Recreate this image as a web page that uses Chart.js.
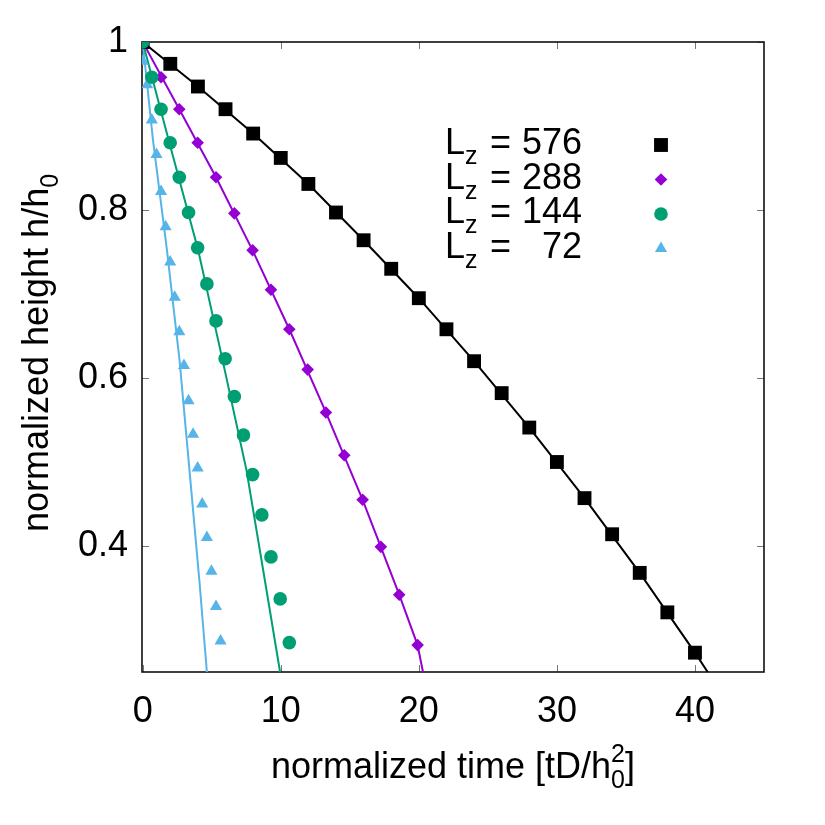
<!DOCTYPE html>
<html>
<head>
<meta charset="utf-8">
<script src="https://cdn.jsdelivr.net/npm/chart.js@4.4.1/dist/chart.umd.min.js"></script>
<style>
  html, body { margin: 0; padding: 0; background: #fff; }
  canvas { display: block; }
</style>
</head>
<body>
<canvas id="chart" width="825" height="825"></canvas>
<script>
// simulation data: normalized time vs normalized height
const tLz576 = [0, 2, 4, 6, 8, 10, 12, 14, 16, 18, 20, 22, 24, 26, 28, 30, 32, 34, 36, 38, 40];
const hLz576 = [1.0, 0.974, 0.947, 0.920, 0.891, 0.862, 0.831, 0.797, 0.764, 0.730, 0.695,
                0.658, 0.620, 0.582, 0.541, 0.500, 0.457, 0.414, 0.368, 0.321, 0.273];

const tLz288 = [0, 1.33, 2.65, 3.98, 5.31, 6.64, 7.96, 9.29, 10.62, 11.95, 13.27, 14.6, 15.93, 17.25, 18.58, 19.91];
const hLz288 = [1.0, 0.958, 0.920, 0.880, 0.839, 0.796, 0.752, 0.705, 0.658, 0.610, 0.559, 0.508, 0.455, 0.399, 0.342, 0.282];

const tLz144 = [0, 0.66, 1.33, 1.99, 2.65, 3.32, 3.98, 4.65, 5.31, 5.97, 6.64, 7.3, 7.96, 8.63, 9.29, 9.96, 10.62];
const hLz144 = [1.0, 0.958, 0.920, 0.880, 0.839, 0.797, 0.755, 0.712, 0.668, 0.623, 0.578, 0.532, 0.485, 0.437, 0.387, 0.337, 0.285];

const tLz72 = [0, 0.33, 0.66, 1.0, 1.33, 1.66, 1.99, 2.32, 2.65, 2.99, 3.32, 3.65, 3.98, 4.31, 4.65, 4.98, 5.31, 5.64];
const hLz72 = [0.977, 0.949, 0.907, 0.866, 0.822, 0.780, 0.738, 0.696, 0.655, 0.615, 0.573, 0.533, 0.493, 0.450, 0.410, 0.370, 0.328, 0.287];

// model curves
const tFit576 = [0, 4, 8, 12, 16, 20, 24, 28, 32, 36, 40, 40.92];
const hFit576 = [1.0, 0.947, 0.891, 0.831, 0.764, 0.695, 0.620, 0.541, 0.457, 0.368, 0.273, 0.25];
const tFit288 = [0, 2.65, 5.31, 7.96, 10.62, 13.27, 15.93, 18.58, 19.91, 20.3];
const hFit288 = [1.0, 0.920, 0.839, 0.752, 0.658, 0.559, 0.455, 0.342, 0.282, 0.25];
const tFit144 = [0, 1.87, 4.02, 5.79, 7.52, 8.86, 9.95];
const hFit144 = [1.0, 0.884, 0.752, 0.621, 0.490, 0.358, 0.25];
const tFit72 = [0, 0.74, 1.76, 2.67, 3.39, 4.11, 4.65];
const hFit72 = [1.0, 0.884, 0.752, 0.621, 0.490, 0.358, 0.25];

const legendLabels = ["576", "288", "144", "72"];
const xTicks = [0, 10, 20, 30, 40];
const yTicks = [0.4, 0.6, 0.8, 1.0];

const colours = ["#000000", "#9400d3", "#009e73", "#56b4e9"];
const styles = ["rect", "rectRot", "circle", "triangle"];
const radii = [9.8, 6.3, 6.8, 7];

const FONT = "'Liberation Sans', Arial, Helvetica, sans-serif";
const FS = 36;   // main font size
const SS = 25;   // sub/superscript size

const pts = (xs, ys) => xs.map((x, i) => ({ x: x, y: ys[i] }));

const markerSets = [[tLz576, hLz576], [tLz288, hLz288], [tLz144, hLz144], [tLz72, hLz72]];
const fitSets = [[tFit576, hFit576], [tFit288, hFit288], [tFit144, hFit144], [tFit72, hFit72]];
const markerOrder = [4, 3, 1, 2];

const datasets = [];
fitSets.forEach((s, i) => {
    datasets.push({
        label: "fit " + legendLabels[i],
        data: pts(s[0], s[1]),
        showLine: true,
        borderColor: colours[i],
        borderWidth: 2,
        pointRadius: 0,
        order: 10 + i
    });
});
markerSets.forEach((s, i) => {
    datasets.push({
        label: "Lz = " + legendLabels[i],
        data: pts(s[0], s[1]),
        showLine: false,
        backgroundColor: colours[i],
        borderWidth: 0,
        pointStyle: styles[i],
        pointRadius: radii[i],
        pointHoverRadius: radii[i],
        order: markerOrder[i]
    });
});

function drawMarker(ctx, style, r, x, y) {
    if (Chart.helpers && Chart.helpers.drawPoint) {
        Chart.helpers.drawPoint(ctx, { pointStyle: style, radius: r, rotation: 0, borderWidth: 0 }, x, y);
        return;
    }
    ctx.beginPath();
    ctx.arc(x, y, r, 0, Math.PI * 2);
    ctx.fill();
}

// text with sub/superscripts; parts: [text, size, dy, noAdvance]
function textWidth(ctx, parts) {
    let w = 0;
    parts.forEach(p => {
        ctx.font = p[1] + "px " + FONT;
        if (!p[3]) w += ctx.measureText(p[0]).width;
    });
    return w;
}
function drawParts(ctx, parts, x, y) {
    let cx = x;
    parts.forEach(p => {
        ctx.font = p[1] + "px " + FONT;
        ctx.fillText(p[0], cx, y + p[2]);
        if (!p[3]) cx += ctx.measureText(p[0]).width;
    });
}

const decor = {
    id: "decor",
    beforeDatasetsDraw(chart) {
        const ctx = chart.ctx;
        const a = chart.chartArea;
        const xs = chart.scales.x, ys = chart.scales.y;
        ctx.save();
        ctx.strokeStyle = "#777";
        ctx.lineWidth = 1;
        const tl = 7;
        xTicks.forEach(v => {
            const px = Math.round(xs.getPixelForValue(v)) + 0.5;
            ctx.beginPath();
            ctx.moveTo(px, a.bottom); ctx.lineTo(px, a.bottom - tl);
            ctx.moveTo(px, a.top); ctx.lineTo(px, a.top + tl);
            ctx.stroke();
        });
        yTicks.forEach(v => {
            const py = Math.round(ys.getPixelForValue(v)) + 0.5;
            ctx.beginPath();
            ctx.moveTo(a.left, py); ctx.lineTo(a.left + tl, py);
            ctx.moveTo(a.right, py); ctx.lineTo(a.right - tl, py);
            ctx.stroke();
        });
        ctx.strokeStyle = "#111";
        ctx.lineWidth = 1.6;
        ctx.strokeRect(a.left, a.top, a.right - a.left, a.bottom - a.top);
        ctx.restore();
    },
    afterDraw(chart) {
        const ctx = chart.ctx;
        const a = chart.chartArea;
        ctx.save();
        ctx.fillStyle = "#000";
        ctx.textBaseline = "alphabetic";
        ctx.textAlign = "left";

        // x axis title
        const xt = [["normalized time [tD/h", FS, 0], ["2", SS, -16, true], ["0", SS, 10], ["]", FS, 0]];
        const xw = textWidth(ctx, xt);
        drawParts(ctx, xt, (a.left + a.right) / 2 - xw / 2, 778);

        // y axis title
        const yt = [["normalized height h/h", FS, 0], ["0", SS, 10]];
        const yw = textWidth(ctx, yt);
        ctx.save();
        ctx.translate(48, (a.top + a.bottom) / 2 - 4);
        ctx.rotate(-Math.PI / 2);
        drawParts(ctx, yt, -yw / 2, 0);
        ctx.restore();

        // key
        legendLabels.forEach((lab, i) => {
            const base = 154 + i * 34.5;
            ctx.fillStyle = "#000";
            ctx.textAlign = "left";
            drawParts(ctx, [["L", FS, 0], ["z", SS, 10]], 445, base);
            ctx.font = FS + "px " + FONT;
            ctx.fillText("=", 490, base);
            ctx.textAlign = "right";
            ctx.fillText(lab, 582, base);
            ctx.fillStyle = colours[i];
            drawMarker(ctx, styles[i], radii[i], 661, base - 9);
        });
        ctx.restore();
    }
};

new Chart(document.getElementById("chart"), {
    type: "scatter",
    data: { datasets: datasets },
    options: {
        responsive: false,
        animation: false,
        events: [],
        layout: { padding: { left: 0, top: 42, right: 61, bottom: 0 } },
        plugins: { legend: { display: false }, tooltip: { enabled: false } },
        scales: {
            x: {
                type: "linear",
                min: -0.05,
                max: 45,
                grid: { display: false, drawTicks: false },
                border: { display: false },
                afterFit: s => { s.height = 825 - 672; },
                afterBuildTicks: s => { s.ticks = xTicks.map(v => ({ value: v })); },
                ticks: {
                    padding: 18,
                    color: "#000",
                    font: { family: FONT, size: FS },
                    maxRotation: 0,
                    callback: v => String(v)
                }
            },
            y: {
                type: "linear",
                min: 0.25,
                max: 1.0,
                grid: { display: false, drawTicks: false },
                border: { display: false },
                afterFit: s => { s.width = 142; },
                afterBuildTicks: s => { s.ticks = yTicks.map(v => ({ value: v })); },
                ticks: {
                    padding: 14,
                    color: "#000",
                    font: { family: FONT, size: FS },
                    callback: v => String(Math.round(v * 10) / 10)
                }
            }
        }
    },
    plugins: [decor]
});
</script>
</body>
</html>
